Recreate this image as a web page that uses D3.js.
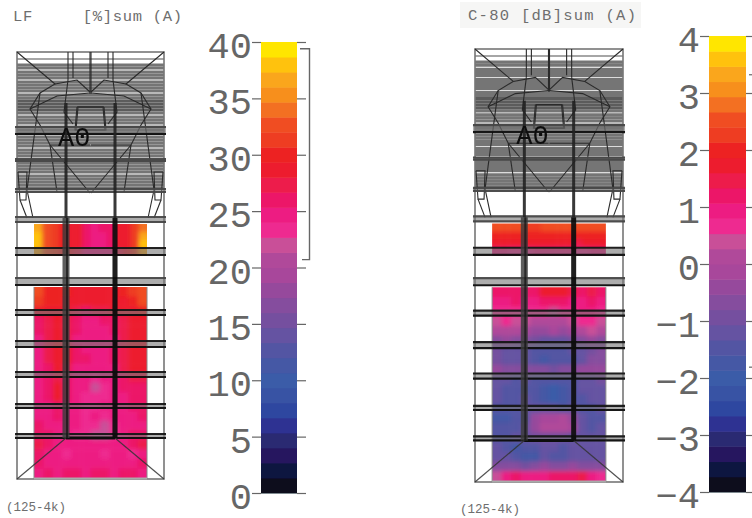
<!DOCTYPE html>
<html>
<head>
<meta charset="utf-8">
<script src="https://cdn.jsdelivr.net/npm/d3@7"></script>
<style>
  html, body { margin: 0; padding: 0; background: #fff; }
  svg { display: block; }
  .title { font-family: "Liberation Mono", monospace; fill: #6e6e6e; }
  .tick-label text { font-family: "Liberation Mono", monospace; font-size: 37px; fill: #666; }
</style>
</head>
<body>
<div id="chart"></div>
<script>
// colour steps of the legend, lowest value first
const bandColors = ["#0d0f1e", "#0e1440", "#25195e", "#2b2a72", "#2e3192", "#2f47a0", "#3752a4", "#3b5ba8",
  "#4558a5", "#5255a3", "#6552a2", "#75509f", "#854d9e", "#96499c", "#a8479b", "#b0499a", "#c94f98", "#ee2a90",
  "#ed1a82", "#ec1568", "#ed1a4c", "#ed1c2e", "#ed2024", "#ee3d24", "#f04e23", "#f36f21", "#f78f1e", "#faa61a",
  "#ffc20e", "#ffe600"];

const lfTicks = [0, 5, 10, 15, 20, 25, 30, 35, 40];
const c80Ticks = [-4, -3, -2, -1, 0, 1, 2, 3, 4];

// LF [%], balcony strip
const lfBalcony = [
  [36, 33, 31, 30, 29, 28, 26, 25, 26, 26, 28, 29, 31, 34],
  [38, 33, 31, 30, 29, 28, 26, 25, 25, 26, 28, 29, 31, 37],
  [38, 33, 31, 30, 29, 28, 26, 25, 25, 26, 28, 29, 31, 38],
  [37, 32, 31, 30, 29, 27, 25, 25, 25, 25, 27, 29, 31, 36]
];
// LF [%], main floor
const lfMain = [
  [32, 30, 30, 30, 29, 28, 28, 28, 29, 30, 31, 33],
  [31, 30, 30, 29, 28, 28, 28, 28, 28, 29, 30, 32],
  [29, 29, 29, 28, 27, 26, 27, 27, 28, 28, 29, 30],
  [26, 27, 28, 27, 26, 25, 25, 26, 26, 27, 28, 29],
  [26, 27, 28, 27, 26, 25, 25, 25, 26, 27, 28, 28],
  [25, 27, 28, 27, 25, 25, 24, 25, 25, 27, 28, 28],
  [25, 27, 28, 28, 26, 25, 25, 25, 26, 27, 29, 29],
  [25, 27, 28, 28, 26, 26, 25, 25, 26, 27, 29, 29],
  [25, 26, 28, 27, 25, 25, 25, 25, 25, 27, 28, 28],
  [25, 26, 27, 26, 24, 24, 23, 24, 24, 26, 27, 27],
  [25, 26, 28, 26, 24, 24, 22, 23, 24, 26, 26, 26],
  [25, 26, 28, 26, 24, 23, 23, 23, 24, 25, 26, 26],
  [25, 25, 26, 25, 24, 23, 23, 24, 24, 25, 26, 26],
  [25, 25, 26, 25, 24, 23, 24, 23, 24, 25, 25, 26],
  [26, 25, 25, 25, 24, 23, 23, 22, 23, 25, 25, 25],
  [26, 26, 25, 25, 23, 23, 22, 22, 23, 25, 26, 26],
  [27, 26, 25, 24, 25, 25, 25, 25, 25, 25, 26, 27],
  [26, 25, 24, 23, 25, 24, 25, 23, 25, 24, 23, 25],
  [26, 25, 25, 25, 24, 25, 25, 24, 25, 25, 25, 26],
  [25, 26, 25, 26, 26, 25, 26, 26, 25, 26, 26, 25]
];
// C-80 [dB], balcony strip
const c80Balcony = [
  [2.4, 2.5, 2.6, 2.5, 2.3, 2.3, 2.5, 2.6, 2.5, 2.6, 2.4, 2.4, 2.6, 2.5],
  [2.0, 2.0, 2.1, 2.0, 2.0, 2.0, 2.1, 2.1, 2.1, 2.0, 2.0, 2.1, 2.1, 2.0],
  [1.7, 1.6, 1.6, 1.7, 1.7, 1.7, 1.6, 1.6, 1.7, 1.6, 1.5, 1.6, 1.7, 1.7],
  [0.8, 0.8, 0.6, 0.6, 0.6, 1.0, 0.9, 1.0, 0.9, 0.9, 0.6, 0.7, 0.8, 0.9]
];
// C-80 [dB], main floor
const c80Main = [
  [1.1, 1.3, 1.3, 1.2, 1.3, 1.6, 1.7, 1.6, 1.4, 1.3, 1.5, 1.2],
  [1.0, 1.0, 1.2, 1.0, 1.0, 1.1, 1.2, 1.1, 1.0, 1.0, 1.1, 1.0],
  [0.6, 0.7, 0.7, 0.6, 0.7, 0.6, 0.4, 0.6, 0.7, 0.8, 0.8, 0.7],
  [0.5, 0.6, 0.5, 0.3, 0.2, 0.1, 0.2, 0.2, 0.3, 0.6, 0.6, 0.5],
  [0.2, 0.2, 0.1, -0.1, -0.3, -0.3, -0.1, -0.4, -0.2, 0.1, 0.3, 0.2],
  [-0.6, -0.5, -0.7, -0.8, -1.0, -1.1, -1.1, -1.2, -1.0, -0.7, -0.5, -0.6],
  [-0.9, -1.1, -1.2, -1.1, -1.4, -1.5, -1.4, -1.5, -1.2, -1.1, -0.9, -0.8],
  [-0.9, -1.3, -1.2, -1.2, -1.6, -1.7, -1.4, -1.4, -1.6, -1.1, -0.8, -0.8],
  [-0.5, -0.6, -0.7, -0.7, -0.8, -0.8, -0.9, -0.8, -0.7, -0.5, -0.5, -0.4],
  [-1.2, -1.3, -1.5, -1.2, -1.5, -1.5, -1.6, -1.5, -1.5, -1.2, -1.2, -1.0],
  [-1.1, -1.4, -1.6, -1.4, -1.6, -1.7, -1.9, -1.7, -1.4, -1.2, -1.1, -1.2],
  [-1.3, -1.6, -1.4, -1.3, -1.5, -1.8, -1.9, -1.8, -1.5, -1.5, -1.2, -1.3],
  [-1.5, -1.4, -1.5, -1.3, -1.3, -1.3, -1.2, -1.4, -1.2, -1.5, -1.4, -1.3],
  [-1.7, -1.8, -1.6, -1.4, -0.5, -0.2, -0.1, 0.0, -0.3, -1.2, -1.5, -1.4],
  [-1.5, -1.6, -1.5, -1.3, -0.4, 0.0, 0.1, 0.2, -0.2, -1.3, -1.4, -1.3],
  [-1.4, -1.4, -1.3, -1.2, -1.0, -1.0, -0.9, -1.0, -1.1, -1.2, -1.2, -1.2],
  [-1.3, -1.5, -1.8, -1.6, -1.5, -1.2, -1.3, -1.5, -1.2, -1.3, -1.2, -1.3],
  [-1.2, -1.3, -1.5, -1.8, -1.7, -1.3, -1.5, -1.4, -1.3, -1.2, -1.3, -1.2],
  [-0.8, -0.7, -0.6, -0.9, -0.7, -0.5, -0.6, -0.7, -0.5, -0.6, -0.7, -0.8],
  [0.5, 0.9, 1.1, 1.0, 0.9, 1.0, 1.1, 1.2, 1.1, 1.4, 1.0, 0.6]
];

// hall plan in plan units (0-147 across, 0-427 along)
const planSize = [147, 427];
const heatXExtent = [17, 130];
const balconyExtent = [172, 204];
const mainExtent = [235, 426];
const seatRows = [13, 16, 20, 23, 26, 30, 33, 36, 39, 43, 46, 49, 52, 55, 58, 61, 65, 68, 71, 75, 78, 81,
  85, 88, 91, 94, 98, 101, 104, 108, 111, 114, 117, 120, 124, 127, 130, 133, 136];
const beamPairs = [[75, 82], [107, 109], [137, 140], [165, 170], [196, 203], [226, 233], [258, 263], [289, 295], [320, 325], [352, 356], [382, 386]];
const columnsX = [49, 98];
// half of the ceiling outline, mirrored when drawn
const planPaths = [
  [[0, 0], [38, 32], [23, 41], [13, 57], [23, 73], [33, 93], [73, 141]],
  [[23, 41], [10, 138], [16, 166]],
  [[33, 93], [40, 140]],
  [[38, 32], [60, 28], [73, 40]],
  [[13, 57], [40, 44], [73, 41]],
  [[51, 0], [51, 28]], [[56, 0], [56, 26]], [[73, 0], [73, 42]],
  [[51, 28], [47, 60], [56, 72]],
  [[60, 55], [86, 55], [88, 78], [58, 78], [60, 55]],
  [[1, 120], [10, 120], [9, 148], [3, 148], [1, 120]],
  [[3, 148], [10, 166]],
  [[33, 93], [73, 93]]
];

const width = 752, height = 518;
const svg = d3.select("#chart").append("svg").attr("width", width).attr("height", height);

const defs = svg.append("defs");
defs.append("filter").attr("id", "soft").append("feGaussianBlur").attr("stdDeviation", 0.55);
defs.append("filter").attr("id", "softer")
  .attr("x", "-5%").attr("y", "-5%").attr("width", "110%").attr("height", "110%")
  .append("feGaussianBlur").attr("stdDeviation", 2);

function drawHeat(g, id, rows, xs, y0, y1, color) {
  const cols = d3.range(rows[0].length);
  const x = d3.scaleBand().domain(cols).range(xs);
  const y = d3.scaleBand().domain(d3.range(rows.length)).range([y0, y1]);
  defs.append("clipPath").attr("id", id).append("rect")
    .attr("x", xs[0]).attr("y", y0).attr("width", xs[1] - xs[0]).attr("height", y1 - y0);
  const inner = g.append("g").attr("clip-path", `url(#${id})`).append("g").attr("filter", "url(#softer)");
  // pad the blurred block so its edges keep full colour
  rows.forEach((row, r) => {
    inner.selectAll(null).data(row).enter().append("rect")
      .attr("x", (d, c) => x(c) - (c === 0 ? 4 : 0))
      .attr("y", y(r) - (r === 0 ? 4 : 0))
      .attr("width", (d, c) => x.bandwidth() + (c === 0 || c === cols.length - 1 ? 4 : 0) + 0.5)
      .attr("height", y.bandwidth() + (r === 0 || r === rows.length - 1 ? 4 : 0) + 0.5)
      .attr("fill", d => color(d));
  });
}

function drawPlan(xRange, yRange, domain, balcony, main, key) {
  const x = d3.scaleLinear().domain([0, planSize[0]]).range(xRange);
  const y = d3.scaleLinear().domain([0, planSize[1]]).range(yRange);
  const color = d3.scaleQuantize().domain(domain).range(bandColors);
  const heatXs = heatXExtent.map(x);

  const plan = svg.append("g");
  drawHeat(plan, key + "-b", balcony, heatXs, y(balconyExtent[0]), y(balconyExtent[1]), color);
  drawHeat(plan, key + "-m", main, heatXs, y(mainExtent[0]), y(mainExtent[1]), color);

  const lines = plan.append("g").attr("filter", "url(#soft)").attr("fill", "none");
  const seg = (x1, y1, x2, y2, stroke, w, op) => lines.append("line")
    .attr("x1", x(x1)).attr("y1", y(y1)).attr("x2", x(x2)).attr("y2", y(y2))
    .attr("stroke", stroke).attr("stroke-width", w).attr("stroke-opacity", op === undefined ? 1 : op);

  // seating rows of the upper part
  seatRows.forEach(r => seg(0, r, planSize[0], r, r > 47 && r < 60 ? "#5c5c5c" : "#747474", 3.2, 1));
  seg(0, 7, planSize[0], 7, "#888", 1.5);

  // outline and heat edges
  lines.append("rect").attr("x", x(0)).attr("y", y(0))
    .attr("width", x(planSize[0]) - x(0)).attr("height", y(planSize[1]) - y(0))
    .attr("stroke", "#777").attr("stroke-width", 1.6);
  heatXExtent.forEach(v => seg(v, mainExtent[0], v, planSize[1], "#888", 1));
  seg(heatXExtent[0], planSize[1] - 0.5, heatXExtent[1], planSize[1] - 0.5, "#aaa", 2);

  // ceiling outline, both halves
  const line = d3.line().x(d => x(d[0])).y(d => y(d[1]));
  planPaths.forEach(p => {
    lines.append("path").attr("d", line(p)).attr("stroke", "#2a2a2a").attr("stroke-width", 1.1);
    lines.append("path").attr("d", line(p.map(d => [planSize[0] - d[0], d[1]])))
      .attr("stroke", "#2a2a2a").attr("stroke-width", 1.1);
  });

  // cross beams stick out past the outline
  beamPairs.forEach((pair, i) => {
    seg(-2, (pair[0] + pair[1]) / 2, planSize[0] + 2, (pair[0] + pair[1]) / 2, "#777", pair[1] - pair[0] + 1.5, 0.6);
    seg(-2, pair[0], planSize[0] + 2, pair[0], i < 6 && i !== 4 ? "#444" : "#111", 2.2, 0.9);
    seg(-2, pair[1], planSize[0] + 2, pair[1], i < 4 && i !== 0 ? "#444" : "#0c0c0c", 2.2, 0.92);
  });

  // side walls of the stage end
  seg(columnsX[0], 386, 0, planSize[1], "#333", 1.2, 0.85);
  seg(columnsX[1], 386, planSize[0], planSize[1], "#333", 1.2, 0.85);
  seg(columnsX[0], 386, columnsX[1], 386, "#111", 3);

  // long columns, the right one is darker
  seg(columnsX[0], 51, columnsX[0], 166, "#222", 3, 0.9);
  seg(columnsX[1], 51, columnsX[1], 166, "#222", 3, 0.9);
  seg(columnsX[0], 166, columnsX[0], 386, "#3a3a3a", 7, 0.82);
  seg(columnsX[0] + 1, 166, columnsX[0] + 1, 386, "#111", 2, 0.7);
  seg(columnsX[1], 166, columnsX[1], 386, "#0c0c0c", 5, 0.93);

  plan.append("text").attr("x", x(41)).attr("y", y(94))
    .attr("font-family", "Liberation Mono, monospace").attr("font-size", 27)
    .attr("fill", "#111").attr("filter", "url(#soft)").text("A0");
}

function drawLegend(domain, ticks, yRange, barLeft, barRight) {
  const y = d3.scaleLinear().domain(domain).range(yRange);
  const step = (domain[1] - domain[0]) / bandColors.length;
  const legend = svg.append("g");
  const bar = legend.append("g").attr("filter", "url(#soft)");
  bar.selectAll("rect").data(bandColors).enter().append("rect")
    .attr("x", barLeft).attr("width", barRight - barLeft)
    .attr("y", (d, i) => y(domain[0] + step * (i + 1)))
    .attr("height", (d, i) => y(domain[0] + step * i) - y(domain[0] + step * (i + 1)) + 0.5)
    .attr("fill", d => d);

  const left = legend.append("g").attr("class", "tick-label")
    .attr("transform", `translate(${barLeft},0)`)
    .call(d3.axisLeft(y).tickValues(ticks).tickSize(9).tickPadding(0));
  left.select(".domain").remove();
  left.selectAll("line").attr("stroke", "#666").attr("stroke-width", 1.2);
  left.selectAll("text").attr("dy", "0.42em");

  const right = legend.append("g")
    .attr("transform", `translate(${barRight},0)`)
    .call(d3.axisRight(y).tickValues(ticks).tickSize(9).tickFormat(""));
  right.select(".domain").remove();
  right.selectAll("line").attr("stroke", "#666").attr("stroke-width", 1.2);
  return y;
}

drawPlan([17, 164], [52, 479], [0, 40], lfBalcony, lfMain, "lf");
drawPlan([475, 623], [49, 482], [-4, 4], c80Balcony, c80Main, "c80");

const lfY = drawLegend([0, 40], lfTicks, [493, 42], 261, 297);
const c80Y = drawLegend([-4, 4], c80Ticks, [492, 36], 709, 746);

// bracket beside the LF legend
svg.append("path")
  .attr("d", d3.line()([[300, lfY(39.4)], [309.5, lfY(39.4)], [309.5, lfY(20.7)], [302, lfY(20.7)]]))
  .attr("fill", "none").attr("stroke", "#666").attr("stroke-width", 1.4);
// tail ends of the same bracket on the C-80 legend, cut by the page edge
[[3.32], [-1.81]].forEach(v => {
  svg.append("line").attr("x1", 749).attr("x2", 752).attr("y1", c80Y(v[0])).attr("y2", c80Y(v[0]))
    .attr("stroke", "#666").attr("stroke-width", 1.2);
});

// titles
svg.insert("rect", ":first-child").attr("x", 460).attr("y", 2).attr("width", 181).attr("height", 26).attr("fill", "#f6f6f5");
const title = (x, y, size, len, text) => svg.append("text").attr("class", "title")
  .attr("x", x).attr("y", y).attr("font-size", size)
  .attr("textLength", len).attr("lengthAdjust", "spacing").attr("xml:space", "preserve")
  .style("white-space", "pre").text(text);
title(13, 21, 15.5, 169, "LF     [%]sum (A)");
title(468, 20, 15.5, 168, "C-80 [dB]sum (A)");
title(6, 511, 12.5, 60, "(125-4k)");
title(460, 513, 12.5, 60, "(125-4k)");
</script>
</body>
</html>
